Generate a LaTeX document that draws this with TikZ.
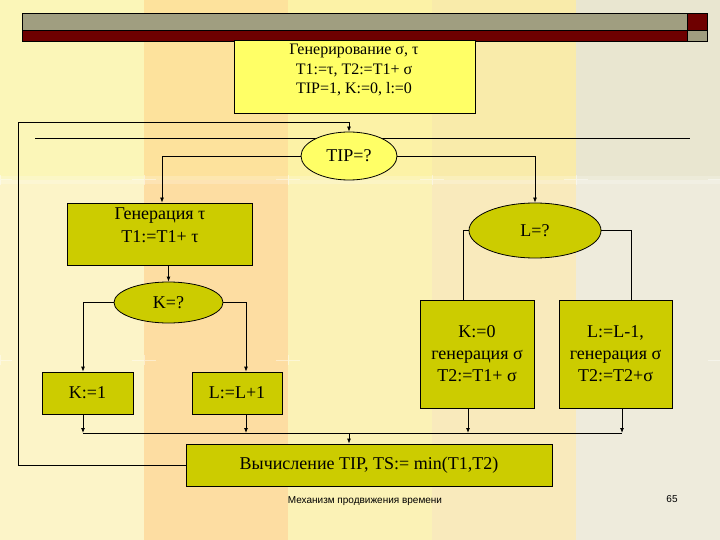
\documentclass[tikz,border=0pt]{standalone}
\usepackage{fontspec}
\setmainfont{Liberation Serif}
\newfontfamily\footfont{Liberation Sans}
\usetikzlibrary{arrows.meta,shapes.geometric,positioning}

\definecolor{olivebox}{HTML}{CCCC00}
\definecolor{lightbox}{HTML}{FFFF66}
\definecolor{barred}{HTML}{6E0000}
\definecolor{bargrey}{HTML}{A09E80}
\definecolor{bgtopA}{HTML}{FBF6B8}
\definecolor{bgtopB}{HTML}{FDE29C}
\definecolor{bgtopC}{HTML}{FCF2A6}
\definecolor{bgtopD}{HTML}{F9EBAA}
\definecolor{bgtopE}{HTML}{E9E6D0}
\definecolor{bgbotA}{HTML}{FCF4C8}
\definecolor{bgbotB}{HTML}{FDDDA2}
\definecolor{bgbotC}{HTML}{FBF2B6}
\definecolor{bgbotD}{HTML}{F9EABC}
\definecolor{bgbotE}{HTML}{EEEBDC}

\begin{document}
\begin{tikzpicture}[x=1pt,y=-1pt,>={Latex[length=5pt,width=4pt]},line width=0.8pt,
  blk/.style={draw,fill=olivebox,inner sep=0pt,align=center,font=\fontsize{18}{22}\selectfont},
  dec/.style={blk,ellipse},
  lbl/.style={align=center,inner sep=0pt,font=\fontsize{18}{23}\selectfont},
  foot/.style={font=\footfont\fontsize{10}{12}\selectfont}]
  \useasboundingbox (0,0) rectangle (720,540);
  % background stripes
  \foreach \x/\ct/\cb in {0/bgtopA/bgbotA,144/bgtopB/bgbotB,288/bgtopC/bgbotC,432/bgtopD/bgbotD,576/bgtopE/bgbotE} {
    \fill[\ct] (\x,0) rectangle +(144,180);
    \fill[\cb] (\x,180) rectangle +(144,360);
  }
  \fill[white,opacity=0.2] (0,176) rectangle (720,184);
  \foreach \x in {0,144,288,432,576,720}
    \foreach \y in {180,360} {
      \draw[white,opacity=0.45,line width=1pt] (\x-12,\y) -- (\x+12,\y) (\x,\y-5) -- (\x,\y+5);
    }
  % title bar
  \draw[line width=0.5pt,fill=bargrey] (22,13) rectangle (687,30);
  \draw[line width=0.5pt,fill=barred] (22,30) rectangle (687,41);
  \draw[line width=0.5pt,fill=barred] (687,13) rectangle (707,30);
  \draw[line width=0.5pt,fill=bargrey] (687,30) rectangle (707,41);

  \node[blk,fill=lightbox,minimum width=241pt,minimum height=73pt] (init) at (354.5,76.5) {};
  \node[lbl,font=\fontsize{16}{19.5}\selectfont] (inittxt) at (354,70) {Генерирование σ, τ\\T1:=τ, T2:=T1+ σ\\TIP=1, K:=0, l:=0};
  \draw (35,138) -- (690,138);
  \node[dec,fill=lightbox,minimum width=96pt,minimum height=48pt] (tip) at (349,156) {TIP=?};
  \node[blk,minimum width=185pt,minimum height=62pt] (gen) at (159.5,234) {};
  \node[lbl] (gentxt) at (160,225.5) {Генерация τ\\T1:=T1+ τ};
  \node[dec,minimum width=132pt,minimum height=55pt] (lq) at (535,230.5) {L=?};
  \node[dec,minimum width=109pt,minimum height=41pt] (kq) at (168.5,302.5) {K=?};
  \node[blk,minimum width=91pt,minimum height=42pt] (k1) at (87.5,393) {K:=1};
  \node[blk,minimum width=90pt,minimum height=42pt] (l1) at (237,393) {L:=L+1};
  \node[blk,minimum width=114pt,minimum height=108pt] (k0) at (477,354) {K:=0\\генерация σ\\T2:=T1+ σ};
  \node[blk,minimum width=113pt,minimum height=108pt] (lm) at (615.5,354) {L:=L-1,\\генерация σ\\T2:=T2+σ};
  \node[blk,minimum width=366pt,minimum height=42pt] (calc) at (369,465) {Вычисление TIP, TS:= min(T1,T2)};

  \coordinate (loop) at (18,122);
  \coordinate (busL) at (83,433);
  \coordinate (busR) at (622,433);

  % connectors
  \draw[->] (calc.west) -| (loop) -| (tip.north);
  \draw[->] (tip.west) -| ([xshift=2.5pt]gen.north);
  \draw[->] (tip.east) -| (lq.north);
  \draw (lq.west) -| ([xshift=-14pt]k0.north);
  \draw (lq.east) -| ([xshift=15.5pt]lm.north);
  \draw[->] (gen.south -| kq.north) -- (kq.north);
  \draw[->] (kq.west) -| (k1.north -| busL);
  \draw[->] (kq.east) -| ([xshift=9pt]l1.north);
  \draw (busL) -- (busR);
  \draw[->] (k1.south -| busL) -- (busL);
  \draw[->] ([xshift=9pt]l1.south) -- ([xshift=9pt]l1.south |- busL);
  \draw[->] ([xshift=-9pt]k0.south) -- ([xshift=-9pt]k0.south |- busL);
  \draw[->] (lm.south -| busR) -- (busR);
  \draw[->] (busL -| tip.south) -- (calc.north -| tip.south);

  \node[foot] (caption) at (365,501) {Механизм продвижения времени};
  \node[foot] (page) at (672,499) {65};
\end{tikzpicture}
\end{document}
